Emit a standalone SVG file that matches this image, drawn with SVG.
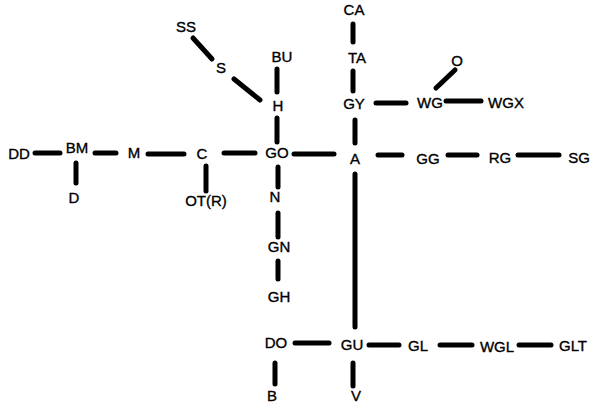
<svg xmlns="http://www.w3.org/2000/svg" width="594" height="408" viewBox="0 0 594 408">
<style>
text{font-family:"Liberation Sans",Arial,sans-serif;font-size:15px;fill:#000;stroke:#000;stroke-width:0.35;text-anchor:middle}
.e line{stroke:#000;stroke-width:5;stroke-linecap:round}
</style>
<rect width="594" height="408" fill="#fff"/>
<g class="e" id="edges">
<line x1="35" y1="153" x2="60" y2="153"/>
<line x1="95" y1="153" x2="116" y2="153"/>
<line x1="148" y1="154" x2="184" y2="154"/>
<line x1="224" y1="153" x2="255" y2="153"/>
<line x1="76" y1="163" x2="76" y2="183"/>
<line x1="206" y1="166" x2="206" y2="191"/>
<line x1="193" y1="38" x2="212" y2="59"/>
<line x1="234" y1="79" x2="260" y2="100"/>
<line x1="277" y1="69" x2="277" y2="92"/>
<line x1="277" y1="118" x2="277" y2="142"/>
<line x1="278" y1="167" x2="278" y2="187"/>
<line x1="278" y1="213" x2="278" y2="237"/>
<line x1="278" y1="261" x2="278" y2="279"/>
<line x1="353" y1="24" x2="353" y2="42"/>
<line x1="353" y1="71" x2="353" y2="91"/>
<line x1="355" y1="120" x2="355" y2="143"/>
<line x1="355" y1="174" x2="355" y2="327"/>
<line x1="294" y1="154" x2="334" y2="154"/>
<line x1="378" y1="155" x2="402" y2="155"/>
<line x1="448" y1="155" x2="477" y2="155"/>
<line x1="518" y1="155" x2="559" y2="155"/>
<line x1="376" y1="103" x2="406" y2="103"/>
<line x1="446" y1="101" x2="481" y2="101"/>
<line x1="436" y1="88" x2="455" y2="70"/>
<line x1="295" y1="343" x2="329" y2="343"/>
<line x1="369" y1="345" x2="399" y2="345"/>
<line x1="440" y1="345" x2="472" y2="345"/>
<line x1="519" y1="345" x2="551" y2="345"/>
<line x1="275" y1="363" x2="275" y2="384"/>
<line x1="353" y1="363" x2="353" y2="386"/>
</g>
<g id="DD"><text x="19" y="159">DD</text></g>
<g id="BM"><text x="77" y="153">BM</text></g>
<g id="D"><text x="74" y="203">D</text></g>
<g id="M"><text x="134" y="158">M</text></g>
<g id="C"><text x="202" y="159">C</text></g>
<g id="OTR"><text x="206" y="206">OT(R)</text></g>
<g id="SS"><text x="186" y="32">SS</text></g>
<g id="S"><text x="221" y="73">S</text></g>
<g id="BU"><text x="282" y="62">BU</text></g>
<g id="H"><text x="278" y="111">H</text></g>
<g id="GO"><text x="277" y="158">GO</text></g>
<g id="N"><text x="275" y="202">N</text></g>
<g id="GN"><text x="279" y="252">GN</text></g>
<g id="GH"><text x="279" y="302">GH</text></g>
<g id="CA"><text x="354" y="15">CA</text></g>
<g id="TA"><text x="357" y="63">TA</text></g>
<g id="GY"><text x="354" y="109">GY</text></g>
<g id="WG"><text x="430" y="108">WG</text></g>
<g id="O"><text x="457" y="66">O</text></g>
<g id="WGX"><text x="506" y="108">WGX</text></g>
<g id="A"><text x="355" y="164">A</text></g>
<g id="GG"><text x="428" y="164">GG</text></g>
<g id="RG"><text x="500" y="163">RG</text></g>
<g id="SG"><text x="579" y="163">SG</text></g>
<g id="DO"><text x="276" y="348">DO</text></g>
<g id="GU"><text x="352" y="350">GU</text></g>
<g id="GL"><text x="418" y="351">GL</text></g>
<g id="WGL"><text x="497" y="352">WGL</text></g>
<g id="GLT"><text x="573" y="351">GLT</text></g>
<g id="B"><text x="272" y="401">B</text></g>
<g id="V"><text x="356" y="401">V</text></g>
</svg>
